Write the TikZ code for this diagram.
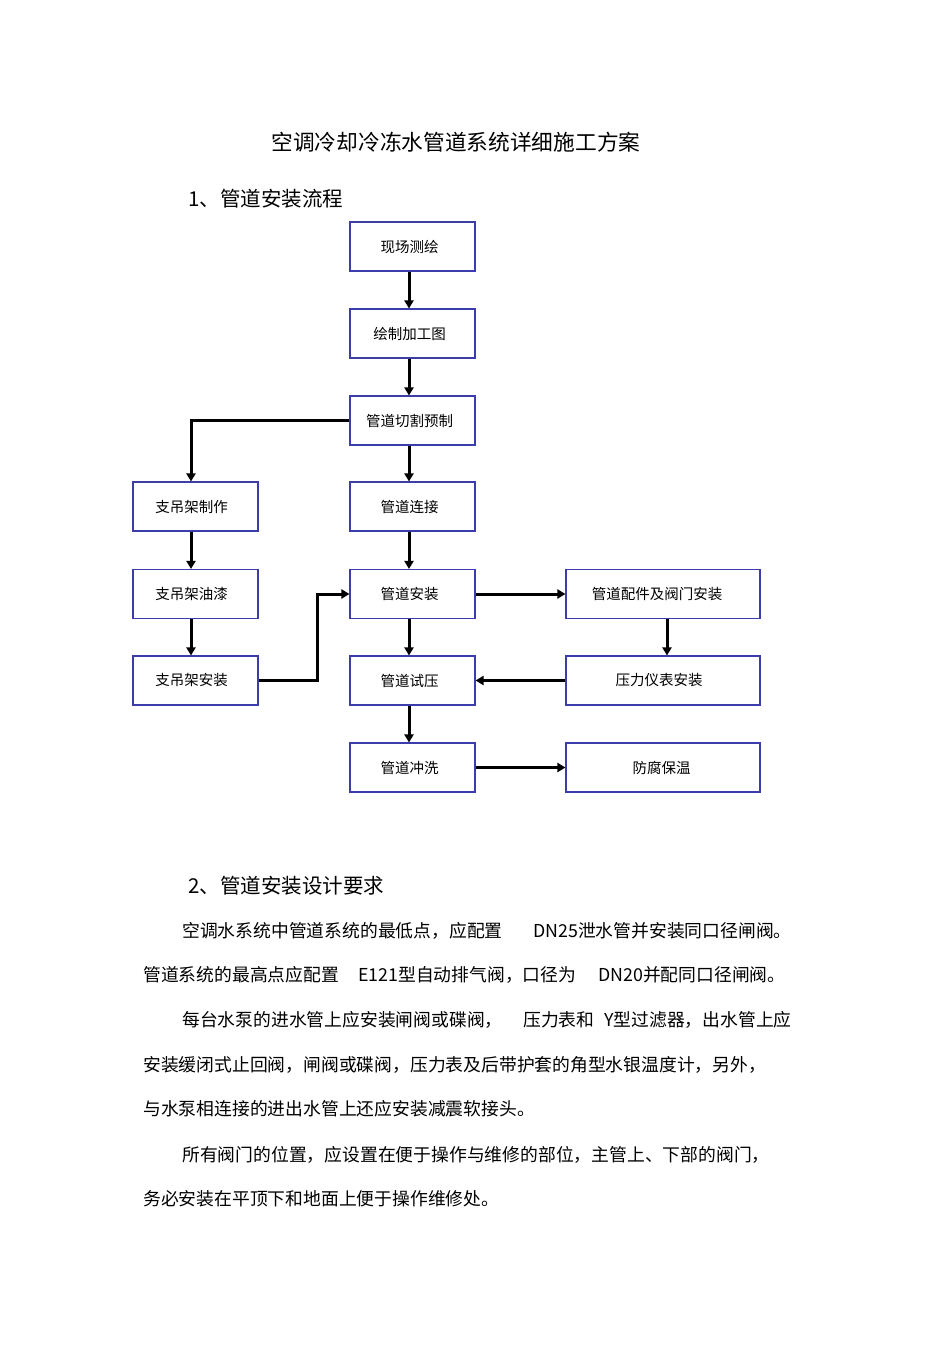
\documentclass[tikz,border=0pt]{standalone}
\usepackage{fontspec}
\setmainfont{Noto Sans CJK SC}
\usetikzlibrary{arrows.meta}
\definecolor{boxblue}{RGB}{60,60,170}
\begin{document}
\begin{tikzpicture}[x=1pt,y=-1pt,
  stepbox/.style={draw=boxblue,line width=1.1pt,minimum width=125pt,minimum height=49pt,inner sep=0pt,font=\fontsize{14.5}{16}\selectfont},
  widebox/.style={stepbox,minimum width=194pt},
  arr/.style={line width=3pt,-{Triangle[length=8pt,width=9pt]}},
  body/.style={anchor=west,inner sep=0pt,font=\fontsize{17.8}{20}\selectfont},
  head/.style={anchor=west,inner sep=0pt,font=\fontsize{20.5}{24}\selectfont}]
\useasboundingbox[fill=white] (0,0) rectangle (950,1345);
% title and headings
\node[inner sep=0pt,font=\fontsize{21.7}{24}\selectfont] (title) at (456,142) {空调冷却冷冻水管道系统详细施工方案};
\node[head] (h1) at (188,199) {1、管道安装流程};
\node[head] (h2) at (188,886) {2、管道安装设计要求};
% boxes
\node[stepbox] (a1) at (412.5,246.5) {\hspace*{-6pt}现场测绘};
\node[stepbox] (a2) at (412.5,333.5) {\hspace*{-6pt}绘制加工图};
\node[stepbox] (a3) at (412.5,420.5) {\hspace*{-6pt}管道切割预制};
\node[stepbox] (a4) at (412.5,506.5) {\hspace*{-6pt}管道连接};
\node[stepbox] (a5) at (412.5,594) {\hspace*{-6pt}管道安装};
\node[stepbox] (a6) at (412.5,680.5) {\hspace*{-6pt}管道试压};
\node[stepbox] (a7) at (412.5,767.5) {\hspace*{-6pt}管道冲洗};
\node[stepbox] (b1) at (195.5,506.5) {\hspace*{-8pt}支吊架制作};
\node[stepbox] (b2) at (195.5,594) {\hspace*{-8pt}支吊架油漆};
\node[stepbox] (b3) at (195.5,680.5) {\hspace*{-8pt}支吊架安装};
\node[widebox] (c1) at (663,594) {\hspace*{-12pt}管道配件及阀门安装};
\node[widebox] (c2) at (663,680.5) {\hspace*{-8pt}压力仪表安装};
\node[widebox] (c3) at (663,767.5) {\hspace*{-3pt}防腐保温};
% connectors
\draw[arr] ([xshift=-3.5pt]a1.south) -- ([xshift=-3.5pt]a2.north);
\draw[arr] ([xshift=-3.5pt]a2.south) -- ([xshift=-3.5pt]a3.north);
\draw[arr] ([xshift=-3.5pt]a3.south) -- ([xshift=-3.5pt]a4.north);
\draw[arr] ([xshift=-3.5pt]a4.south) -- ([xshift=-3.5pt]a5.north);
\draw[arr] ([xshift=-3.5pt]a5.south) -- ([xshift=-3.5pt]a6.north);
\draw[arr] ([xshift=-3.5pt]a6.south) -- ([xshift=-3.5pt]a7.north);
\draw[arr] (a3.west) -| ([xshift=-4.5pt]b1.north);
\draw[arr] ([xshift=-4.5pt]b1.south) -- ([xshift=-4.5pt]b2.north);
\draw[arr] ([xshift=-4.5pt]b2.south) -- ([xshift=-4.5pt]b3.north);
\coordinate (k) at (317,680.5);
\draw[arr] (b3.east) -- (k) |- (a5.west);
\draw[arr] (a5.east) -- (c1.west);
\draw[arr] ([xshift=4pt]c1.south) -- ([xshift=4pt]c2.north);
\draw[arr] (c2.west) -- (a6.east);
\draw[arr] (a7.east) -- (c3.west);
% body text
\node[body] (p1a) at (182,931) {空调水系统中管道系统的最低点，应配置};
\node[body] (p1b) at (533,931) {DN25泄水管并安装同口径闸阀。};
\node[body] (p2a) at (143,975) {管道系统的最高点应配置};
\node[body] (p2b) at (358,975) {E121型自动排气阀，口径为};
\node[body] (p2c) at (598,975) {DN20并配同口径闸阀。};
\node[body] (p3a) at (182,1020) {每台水泵的进水管上应安装闸阀或碟阀，};
\node[body] (p3b) at (523,1020) {压力表和};
\node[body] (p3c) at (604,1020) {Y型过滤器，出水管上应};
\node[body] (p4) at (143,1065) {安装缓闭式止回阀，闸阀或碟阀，压力表及后带护套的角型水银温度计，另外，};
\node[body] (p5) at (143,1109) {与水泵相连接的进出水管上还应安装减震软接头。};
\node[body] (p6) at (182,1155) {所有阀门的位置，应设置在便于操作与维修的部位，主管上、下部的阀门，};
\node[body] (p7) at (143,1199) {务必安装在平顶下和地面上便于操作维修处。};
\end{tikzpicture}
\end{document}
